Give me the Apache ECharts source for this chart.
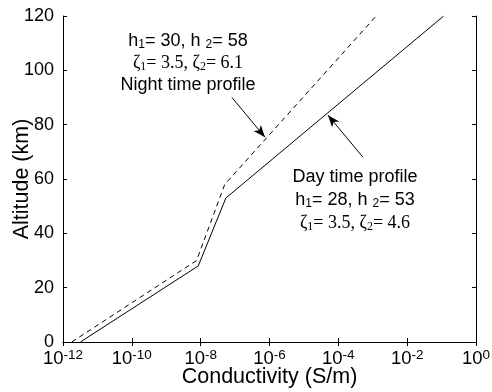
<!DOCTYPE html>
<html>
<head>
<meta charset="utf-8">
<script src="https://cdn.jsdelivr.net/npm/echarts@6/dist/echarts.min.js"></script>
<style>
  html, body { margin: 0; padding: 0; background: #fff; }
  #chart { width: 492px; height: 392px; }
</style>
</head>
<body>
<div id="chart"></div>
<script>
// conductivity (S/m) vs altitude (km)
const dayCond = [3.2e-12, 8.5e-9, 5.4e-8, 0.115];
const dayAlt = [0, 28, 53, 120];
const nightCond = [1.8e-12, 7.6e-9, 5.0e-8, 1.26e-3];
const nightAlt = [0, 30, 58, 120];

// arrows: [tail, head] in data coords
const nightArrow = [[8.1e-8, 90], [7.4e-7, 75.4]];
const dayArrow = [[5.2e-4, 68], [5.0e-5, 83.5]];

const yTicks = [0, 20, 40, 60, 80, 100, 120];
const xTickExp = [-12, -10, -8, -6, -4, -2, 0];

const chart = echarts.init(document.getElementById('chart'));

const sans = '"Liberation Sans", Arial, sans-serif';
const serif = '"Liberation Serif", "Times New Roman", serif';

function pairs(xs, ys) {
  return xs.map((x, i) => [x, ys[i]]);
}

function arrowLine(a) {
  return [{ coord: a[0] }, { coord: a[1] }];
}

const axisCommon = {
  axisLine: { show: true, lineStyle: { color: '#000', width: 1 } },
  axisTick: { show: true, inside: true, length: 4, lineStyle: { color: '#000' } },
  splitLine: { show: false }
};

function label(text, x, y, family) {
  return {
    type: 'text',
    x: x,
    y: y,
    style: {
      text: text,
      align: 'center',
      verticalAlign: 'middle',
      fontFamily: family,
      fontSize: 18,
      fill: '#000',
      rich: {
        s: { fontFamily: family, fontSize: 12, fill: '#000', padding: [8, 0, 0, 0] }
      }
    }
  };
}

const logX = {
  type: 'log',
  logBase: 10,
  min: 1e-12,
  max: 1,
  interval: 2,
  splitNumber: 6
};

const option = {
  animation: false,
  backgroundColor: '#fff',
  grid: { left: 63, right: 16, top: 16, bottom: 50, outerBoundsMode: 'none', containLabel: false },
  xAxis: [
    Object.assign({}, axisCommon, logX, {
      name: 'Conductivity (S/m)',
      nameLocation: 'middle',
      nameGap: 24,
      nameMoveOverlap: false,
      nameTextStyle: { fontFamily: sans, fontSize: 21.5, color: '#000' },
      axisLabel: {
        margin: 6,
        color: '#000',
        hideOverlap: false,
        showMinLabel: true,
        showMaxLabel: true,
        formatter: function (v) {
          const e = Math.round(Math.log10(v));
          if (xTickExp.indexOf(e) < 0) return '';
          return '{b|10}{e|' + e + '}';
        },
        rich: {
          b: { fontFamily: sans, fontSize: 18.5, color: '#000' },
          e: { fontFamily: sans, fontSize: 13.5, color: '#000', padding: [0, 0, 8, 0] }
        }
      }
    }),
    Object.assign({}, axisCommon, logX, {
      position: 'top',
      axisLabel: { show: false }
    })
  ],
  yAxis: [
    Object.assign({}, axisCommon, {
      type: 'value',
      min: 0,
      max: 120,
      interval: 20,
      name: 'Altitude (km)',
      nameLocation: 'middle',
      nameGap: 30,
      nameMoveOverlap: false,
      nameTextStyle: { fontFamily: sans, fontSize: 21.5, color: '#000' },
      axisLabel: {
        margin: 9,
        color: '#000',
        fontFamily: sans,
        fontSize: 18,
        formatter: function (v) { return yTicks.indexOf(v) >= 0 ? String(v) : ''; }
      }
    }),
    Object.assign({}, axisCommon, {
      type: 'value',
      min: 0,
      max: 120,
      interval: 20,
      position: 'right',
      axisLabel: { show: false }
    })
  ],
  series: [
    {
      name: 'Day',
      type: 'line',
      data: pairs(dayCond, dayAlt),
      showSymbol: false,
      lineStyle: { color: '#000', width: 1 },
      markLine: {
        silent: true,
        symbol: ['none', 'arrow'],
        symbolSize: [7, 12],
        label: { show: false },
        lineStyle: { color: '#000', width: 1, type: 'solid' },
        data: [arrowLine(dayArrow)]
      }
    },
    {
      name: 'Night',
      type: 'line',
      data: pairs(nightCond, nightAlt),
      showSymbol: false,
      lineStyle: { color: '#000', width: 1, type: [5, 4] },
      markLine: {
        silent: true,
        symbol: ['none', 'arrow'],
        symbolSize: [7, 12],
        label: { show: false },
        lineStyle: { color: '#000', width: 1, type: 'solid' },
        data: [arrowLine(nightArrow)]
      }
    }
  ],
  graphic: [
    label('h{s|1}= 30, h {s|2}= 58', 188, 41, sans),
    label('\u03b6{s|1}= 3.5, \u03b6{s|2}= 6.1', 188, 63, serif),
    label('Night time profile', 188, 85, sans),
    label('Day time profile', 355, 177, sans),
    label('h{s|1}= 28, h {s|2}= 53', 355, 200, sans),
    label('\u03b6{s|1}= 3.5, \u03b6{s|2}= 4.6', 355, 223, serif)
  ]
};

chart.setOption(option);
</script>
</body>
</html>
